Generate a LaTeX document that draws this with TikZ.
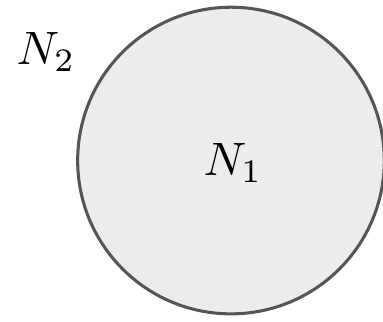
\documentclass[tikz,border=0pt]{standalone}
\usepackage{amsmath, amssymb}
\usepackage{xcolor}
\usepackage{tikz}
\usetikzlibrary{positioning}

\definecolor{regionfill}{HTML}{ECECEC}
\definecolor{regionline}{HTML}{555555}

\begin{document}
\begin{tikzpicture}[
    region/.style={circle, draw=regionline, line width=0.65pt, fill=regionfill, minimum size=2.3cm, inner sep=0pt},
    setlabel/.style={inner sep=0pt}
]
\useasboundingbox (0,0) rectangle (2.8725,2.415);

% inner set
\node[region] (n1) at (1.7325,1.211) {};
\node[setlabel] (n1label) at (1.7475,1.19) {$N_1$};

% outer set label
\node[setlabel] (n2label) at (0.345,2.025) {$N_2$};

\end{tikzpicture}
\end{document}
